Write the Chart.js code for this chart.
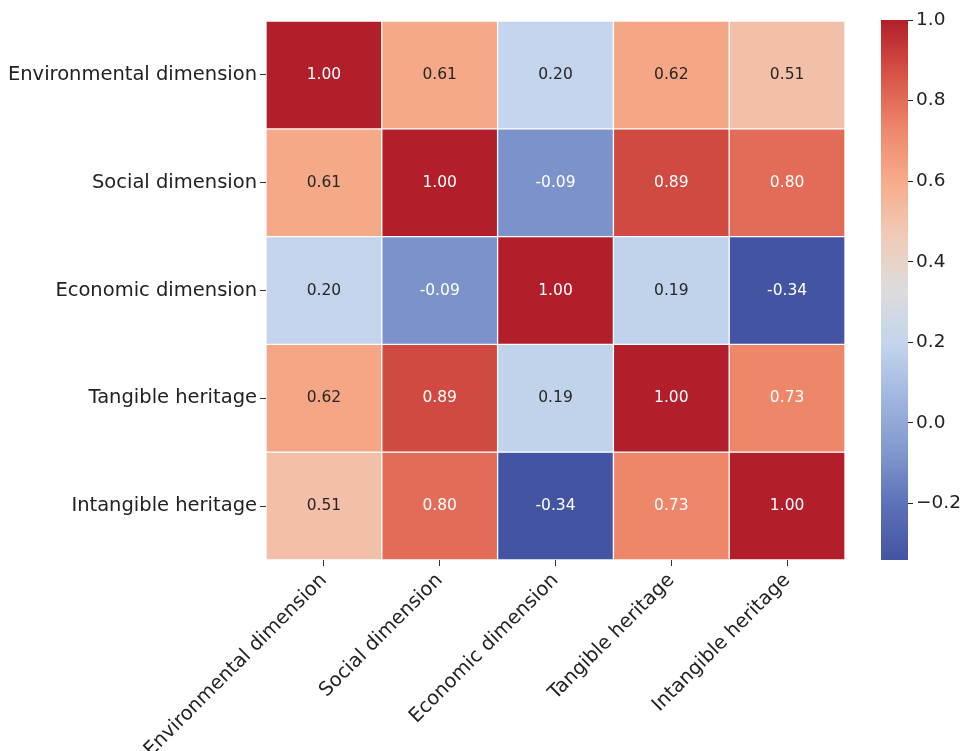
<!DOCTYPE html>
<html>
<head>
<meta charset="utf-8">
<script src="https://cdn.jsdelivr.net/npm/chart.js@4.4.1/dist/chart.umd.min.js"></script>
<style>
  html, body { margin: 0; padding: 0; background: #fff; }
  #wrap { position: relative; width: 960px; height: 751px; }
  #heatmap { position: absolute; left: 0; top: 0; }
  #colorbar { position: absolute; left: 860px; top: 0; }
</style>
</head>
<body>
<div id="wrap">
  <canvas id="heatmap" width="960" height="751"></canvas>
  <canvas id="colorbar" width="100" height="751"></canvas>
</div>
<script>
// Variables (same order on both axes)
const variables = ['Environmental dimension', 'Social dimension', 'Economic dimension', 'Tangible heritage', 'Intangible heritage'];

// Correlation matrix, one array per row
const rowEnvironmental = [1.00, 0.61, 0.20, 0.62, 0.51];
const rowSocial        = [0.61, 1.00, -0.09, 0.89, 0.80];
const rowEconomic      = [0.20, -0.09, 1.00, 0.19, -0.34];
const rowTangible      = [0.62, 0.89, 0.19, 1.00, 0.73];
const rowIntangible    = [0.51, 0.80, -0.34, 0.73, 1.00];
const matrix = [rowEnvironmental, rowSocial, rowEconomic, rowTangible, rowIntangible];

// Colour scale range and colorbar ticks
const vmin = -0.34;
const vmax = 1.0;
const colorbarTicks = [-0.2, 0.0, 0.2, 0.4, 0.6, 0.8, 1.0];

// coolwarm-like scale, 11 stops (slightly muted, as in the picture)
const coolwarm = ['#4354a2', '#5c70b6', '#8098cd', '#a0b6e0', '#c3d4ec', '#dcdcdc',
                  '#f0cbb7', '#f6ac8a', '#ee866a', '#d85346', '#b21e2a'];

const FONT = 'DejaVu Sans';

function hexToRgb(h) {
    return [parseInt(h.substr(1, 2), 16), parseInt(h.substr(3, 2), 16), parseInt(h.substr(5, 2), 16)];
}

function cmapRgb(v) {
    let t = (v - vmin) / (vmax - vmin);
    t = Math.max(0, Math.min(1, t));
    const pos = t * (coolwarm.length - 1);
    const i = Math.min(Math.floor(pos), coolwarm.length - 2);
    const f = pos - i;
    const a = hexToRgb(coolwarm[i]), b = hexToRgb(coolwarm[i + 1]);
    return a.map((c, k) => Math.round(c + (b[k] - c) * f));
}

function cmap(v) {
    const c = cmapRgb(v);
    return 'rgb(' + c.join(',') + ')';
}

// seaborn style: dark text on light cells, white on dark ones
function textColor(v) {
    const lin = cmapRgb(v).map(c => {
        c = c / 255;
        return c <= 0.03928 ? c / 12.92 : Math.pow((c + 0.055) / 1.055, 2.4);
    });
    const lum = 0.2126 * lin[0] + 0.7152 * lin[1] + 0.0722 * lin[2];
    return lum > 0.408 ? '#262626' : '#ffffff';
}

// Plugin to write the value inside each cell
const cellLabels = {
    id: 'cellLabels',
    afterDatasetsDraw(chart) {
        const ctx = chart.ctx;
        ctx.save();
        ctx.font = '15.5px "' + FONT + '"';
        ctx.textAlign = 'center';
        ctx.textBaseline = 'middle';
        chart.data.datasets.forEach((ds, i) => {
            const meta = chart.getDatasetMeta(i);
            meta.data.forEach((bar, j) => {
                const v = matrix[i][j];
                ctx.fillStyle = textColor(v);
                ctx.fillText(v.toFixed(2), bar.x, (bar.y + bar.base) / 2);
            });
        });
        ctx.restore();
    }
};

function initHeatmap() {
    const el = document.getElementById('heatmap');
    const datasets = matrix.map((row, i) => ({
        label: variables[i],
        data: row.map(() => [i, i + 1]),
        backgroundColor: row.map(v => cmap(v)),
        borderColor: '#ffffff',
        borderWidth: 1,
        borderSkipped: false,
        grouped: false,
        barPercentage: 1,
        categoryPercentage: 1
    }));

    new Chart(el.getContext('2d'), {
        type: 'bar',
        data: { labels: variables, datasets: datasets },
        options: {
            responsive: false,
            animation: false,
            layout: { padding: { top: 21, right: 115, left: 0, bottom: 0 } },
            plugins: {
                legend: { display: false },
                tooltip: { enabled: false }
            },
            scales: {
                x: {
                    type: 'category',
                    grid: { offset: false, drawOnChartArea: false, tickLength: 6, tickColor: '#333' },
                    border: { display: false },
                    ticks: {
                        minRotation: 45,
                        maxRotation: 45,
                        color: '#222',
                        padding: 3,
                        font: { family: FONT, size: 19.5 }
                    },
                    afterFit(scale) { scale.height = 191; }
                },
                y: {
                    type: 'linear',
                    reverse: true,
                    min: 0,
                    max: variables.length,
                    grid: { drawOnChartArea: false, tickLength: 6, tickColor: '#333' },
                    border: { display: false },
                    afterBuildTicks(scale) {
                        scale.ticks = variables.map((_, i) => ({ value: i + 0.5 }));
                    },
                    ticks: {
                        color: '#222',
                        padding: 3,
                        font: { family: FONT, size: 19.5 },
                        callback: (value, index) => variables[index]
                    },
                    afterFit(scale) { scale.width = 266; }
                }
            }
        },
        plugins: [cellLabels]
    });
}

function initColorbar() {
    const el = document.getElementById('colorbar');
    new Chart(el.getContext('2d'), {
        type: 'bar',
        data: {
            labels: [''],
            datasets: [{
                data: [[vmin, vmax]],
                backgroundColor: function(context) {
                    const area = context.chart.chartArea;
                    if (!area) return coolwarm[5];
                    const g = context.chart.ctx.createLinearGradient(0, area.bottom, 0, area.top);
                    coolwarm.forEach((c, k) => g.addColorStop(k / (coolwarm.length - 1), c));
                    return g;
                },
                borderWidth: 0,
                barPercentage: 1,
                categoryPercentage: 1
            }]
        },
        options: {
            responsive: false,
            animation: false,
            layout: { padding: { top: 20, left: 21, right: 0, bottom: 191 } },
            plugins: {
                legend: { display: false },
                tooltip: { enabled: false }
            },
            scales: {
                x: { display: false },
                y: {
                    position: 'right',
                    min: vmin,
                    max: vmax,
                    grid: { drawOnChartArea: false, tickLength: 5, tickColor: '#222' },
                    border: { display: false },
                    afterBuildTicks(scale) {
                        scale.ticks = colorbarTicks.map(v => ({ value: v }));
                    },
                    ticks: {
                        color: '#222',
                        padding: 3,
                        font: { family: FONT, size: 18.5 },
                        callback: v => (v < 0 ? '\u2212' + Math.abs(v).toFixed(1) : v.toFixed(1))
                    },
                    afterFit(scale) { scale.width = 52; }
                }
            }
        }
    });
}

document.addEventListener('DOMContentLoaded', function() {
    initHeatmap();
    initColorbar();
});
</script>
</body>
</html>
